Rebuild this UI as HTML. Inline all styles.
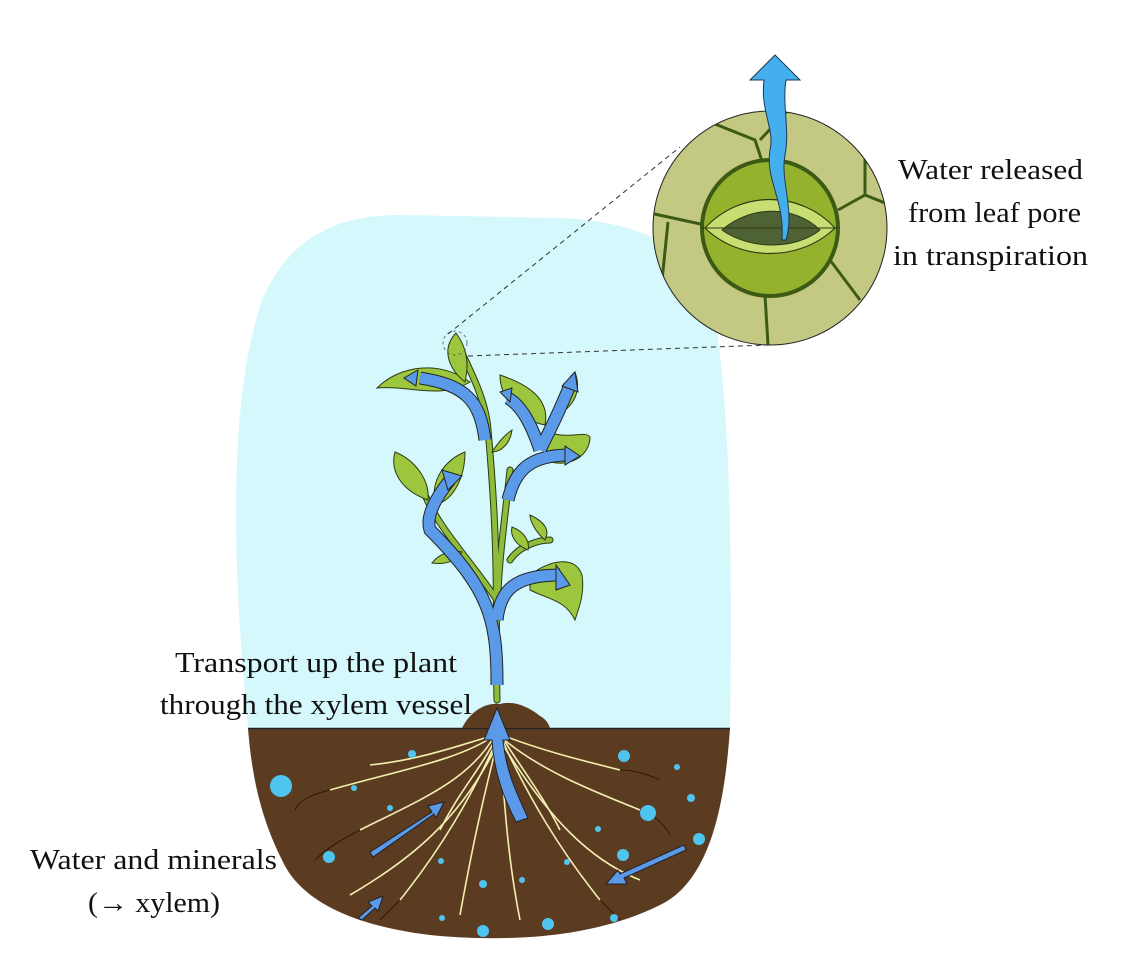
<!DOCTYPE html>
<html><head><style>
body{margin:0;background:#fff;}
svg{display:block;}
text{font-family:"Liberation Serif",serif;font-size:28px;fill:#111;}
</style></head><body>
<svg width="1126" height="980" viewBox="0 0 1126 980" xmlns="http://www.w3.org/2000/svg">
<path d="M248,728 C232,560 228,400 262,300 C290,235 340,215 400,215 L560,218 C640,222 700,245 715,320 C732,420 732,600 730,728 Z" fill="#d4f8fc"/>
<path d="M248,728 L730,728 C725,800 712,880 660,905 C590,940 500,942 430,935 C350,925 300,900 282,860 C262,820 252,780 248,728 Z" fill="#5c3c21"/>
<line x1="248" y1="728.5" x2="730" y2="728.5" stroke="#222" stroke-width="1.5"/>
<path d="M462,728 C470,712 485,702 500,704 C515,700 530,708 540,716 C548,720 550,728 550,728 Z" fill="#5c3c21"/>
<g fill="none" stroke="#f3efb0" stroke-width="1.6">
<path d="M495,735 C470,780 420,800 360,830"/>
<path d="M495,735 C460,760 400,770 330,790"/>
<path d="M497,740 C470,800 440,850 400,900"/>
<path d="M498,740 C480,810 470,860 460,915"/>
<path d="M500,740 C505,820 510,870 520,920"/>
<path d="M502,740 C530,800 560,850 600,900"/>
<path d="M502,738 C540,770 590,790 640,810"/>
<path d="M502,735 C540,750 580,760 620,770"/>
<path d="M495,735 C460,745 420,760 370,765"/>
<path d="M497,745 C460,820 410,860 350,895"/>
<path d="M503,745 C550,820 590,860 640,880"/>
<path d="M496,738 C480,770 460,790 440,830"/>
<path d="M505,742 C530,780 545,800 560,830"/>
</g>
<g fill="none" stroke="#2a1a0c" stroke-width="1">
<path d="M360,830 C340,840 325,850 315,860"/><path d="M330,790 C310,795 300,800 295,810"/>
<path d="M640,810 C655,815 665,825 670,835"/><path d="M620,770 C635,770 650,775 660,780"/>
<path d="M600,900 C610,910 615,915 620,920"/><path d="M400,900 C390,910 385,915 380,920"/>
</g>
<g fill="#4fc4ee">
<circle cx="281" cy="786" r="11"/><circle cx="329" cy="857" r="6"/><circle cx="412" cy="754" r="4"/><circle cx="354" cy="788" r="3"/>
<circle cx="390" cy="808" r="3"/><circle cx="441" cy="861" r="3"/><circle cx="483" cy="884" r="4"/><circle cx="483" cy="931" r="6"/>
<circle cx="548" cy="924" r="6"/><circle cx="624" cy="756" r="6"/><circle cx="677" cy="767" r="3"/><circle cx="648" cy="813" r="8"/>
<circle cx="691" cy="798" r="4"/><circle cx="699" cy="839" r="6"/><circle cx="623" cy="855" r="6"/><circle cx="598" cy="829" r="3"/>
<circle cx="567" cy="862" r="3"/><circle cx="614" cy="918" r="4"/><circle cx="442" cy="918" r="3"/><circle cx="522" cy="880" r="3"/>
</g>
<g fill="#5a9ae8" stroke="#222" stroke-width="1">
<path d="M370,852 L432,812 L428,806 L444,802 L436,818 L434,814 L373,857 Z"/>
<path d="M686,850 L624,878 L627,884 L606,884 L618,870 L620,874 L684,845 Z"/>
<path d="M358,918 L372,906 L368,902 L383,896 L378,911 L375,908 L362,920 Z"/>
<path d="M528,818 C515,790 506,770 503,740 L510,740 L497,708 L484,740 L492,740 C494,775 505,800 516,822 Z"/>
</g>
<g fill="none" stroke="#2d3a12" stroke-width="7" stroke-linecap="round">
<path d="M497,700 C495,620 500,560 488,430 C486,400 470,370 458,345"/>
<path d="M497,620 C498,560 505,520 510,470"/>
<path d="M497,600 C470,560 440,530 425,495"/>
<path d="M510,560 C520,545 540,540 550,540"/>
</g>
<g fill="none" stroke="#8fbc3a" stroke-width="5" stroke-linecap="round">
<path d="M497,700 C495,620 500,560 488,430 C486,400 470,370 458,345"/>
<path d="M497,620 C498,560 505,520 510,470"/>
<path d="M497,600 C470,560 440,530 425,495"/>
<path d="M510,560 C520,545 540,540 550,540"/>
</g>
<g fill="#9cc63e" stroke="#2d3a12" stroke-width="1">
<path d="M470,382 C440,360 400,365 377,388 C410,385 440,400 470,382 Z"/>
<path d="M456,333 C440,350 450,370 465,382 C470,360 465,345 456,333 Z"/>
<path d="M500,375 C500,400 520,420 545,425 C550,400 530,385 500,375 Z"/>
<path d="M548,432 C570,440 585,430 590,437 C590,455 570,470 545,460 Z"/>
<path d="M575,372 C565,380 560,400 565,410 C578,400 580,385 575,372 Z"/>
<path d="M428,500 C400,490 390,470 395,452 C415,460 430,480 428,500 Z"/>
<path d="M435,505 C430,480 445,460 465,452 C465,475 455,500 435,505 Z"/>
<path d="M492,452 C500,440 505,435 512,430 C510,445 500,452 492,452 Z"/>
<path d="M432,563 C440,552 455,550 462,552 C455,562 445,565 432,563 Z"/>
<path d="M528,550 C515,545 510,535 512,527 C525,532 530,542 528,550 Z"/>
<path d="M545,540 C535,532 530,520 530,515 C545,522 550,530 545,540 Z"/>
<path d="M530,575 C550,560 575,555 582,575 C585,595 578,610 575,620 C565,600 550,600 530,590 Z"/>
</g>
<g fill="none" stroke="#222" stroke-width="13">
<path d="M497,685 C497,620 490,590 430,530 C425,515 438,495 450,480"/>
<path d="M497,620 C500,590 515,575 560,575"/>
<path d="M508,500 C515,470 530,455 570,455"/>
<path d="M540,450 C550,430 560,410 570,385"/>
<path d="M540,450 C530,420 520,405 508,398"/>
<path d="M485,440 C480,400 465,385 420,378"/>
</g>
<g fill="none" stroke="#5a9ae8" stroke-width="11">
<path d="M497,685 C497,620 490,590 430,530 C425,515 438,495 450,480"/>
<path d="M497,620 C500,590 515,575 560,575"/>
<path d="M508,500 C515,470 530,455 570,455"/>
<path d="M540,450 C550,430 560,410 570,385"/>
<path d="M540,450 C530,420 520,405 508,398"/>
<path d="M485,440 C480,400 465,385 420,378"/>
</g>
<g fill="#5a9ae8" stroke="#222" stroke-width="1">
<path d="M442,470 L462,476 L448,490 Z"/>
<path d="M556,565 L570,585 L556,590 Z"/>
<path d="M565,446 L580,456 L565,465 Z"/>
<path d="M575,372 L578,392 L562,386 Z"/>
<path d="M500,392 L512,388 L510,402 Z"/>
<path d="M418,370 L416,386 L404,378 Z"/>
</g>
<ellipse cx="455" cy="343" rx="12" ry="12" fill="none" stroke="#555" stroke-width="0.8" stroke-dasharray="3,3"/>
<line x1="448" y1="334" x2="680" y2="147" stroke="#333" stroke-dasharray="5,4"/>
<line x1="468" y1="356" x2="768" y2="345" stroke="#333" stroke-dasharray="5,4"/>
<defs><clipPath id="c"><circle cx="770" cy="228" r="117"/></clipPath></defs>
<circle cx="770" cy="228" r="117" fill="#c3c983"/>
<g clip-path="url(#c)" fill="none" stroke="#3d5a15" stroke-width="3">
<path d="M705,120 L755,140 L765,170"/><path d="M760,140 L790,108"/>
<path d="M865,150 L865,195 L890,205"/><path d="M865,195 L838,210"/>
<path d="M650,213 L705,225"/><path d="M668,222 L660,300"/>
<path d="M830,260 L860,300"/><path d="M765,295 L768,345"/>
</g>
<circle cx="770" cy="228" r="68" fill="#95b22e" stroke="#3d5a15" stroke-width="4"/>
<path d="M705,228 C740,190 800,190 835,228 C800,262 740,262 705,228 Z" fill="#c8de72" stroke="#2d3a12" stroke-width="1.2"/>
<path d="M722,230 C750,205 795,205 820,230 C795,250 750,250 722,230 Z" fill="#4f6233" stroke="#2d3a12" stroke-width="1"/>
<line x1="702" y1="228" x2="838" y2="228" stroke="#2d3a12" stroke-width="1"/>
<circle cx="770" cy="228" r="117" fill="none" stroke="#222" stroke-width="1"/>
<path d="M782,240 C785,200 765,180 770,150 C775,130 760,110 764,80 L750,80 L775,55 L800,80 L786,80 C782,105 790,130 785,155 C780,180 795,210 786,240 Z" fill="#45aeec" stroke="#1d3a55" stroke-width="1"/>
<text x="898" y="179" textLength="185" lengthAdjust="spacingAndGlyphs">Water released</text>
<text x="908" y="222" textLength="173" lengthAdjust="spacingAndGlyphs">from leaf pore</text>
<text x="893" y="265" textLength="195" lengthAdjust="spacingAndGlyphs">in transpiration</text>
<text x="175" y="672" textLength="282" lengthAdjust="spacingAndGlyphs">Transport up the plant</text>
<text x="160" y="714" textLength="312" lengthAdjust="spacingAndGlyphs">through the xylem vessel</text>
<text x="30" y="869" textLength="247" lengthAdjust="spacingAndGlyphs">Water and minerals</text>
<text x="88" y="912" textLength="132" lengthAdjust="spacingAndGlyphs">(→ xylem)</text>
</svg>
</body></html>
